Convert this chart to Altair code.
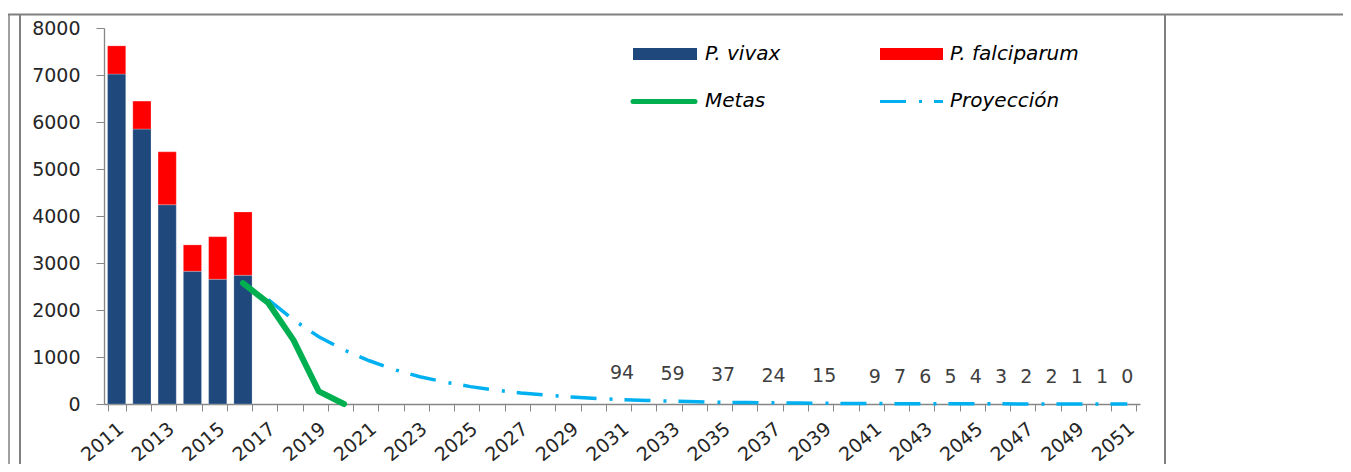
import altair as alt
import pandas as pd

# ---------------- data ----------------
years = [str(y) for y in range(2011, 2052)]

bar_years = ["2011", "2012", "2013", "2014", "2015", "2016"]
vivax = [7020, 5850, 4240, 2825, 2655, 2740]
falciparum = [600, 595, 1125, 560, 905, 1345]

meta_years = ["2016", "2017", "2018", "2019", "2020"]
metas = [2570, 2150, 1360, 270, 0]

proj_years = [str(y) for y in range(2017, 2052)]
proyeccion = [2220, 1790, 1430, 1150, 920, 730, 580, 465, 370, 295, 235, 188,
              150, 118, 94, 74, 59, 47, 37, 30, 24, 19, 15, 12, 9, 7, 6, 5, 4,
              3, 2, 2, 1, 1, 0]

label_years = ["2031", "2033", "2035", "2037", "2039", "2041", "2042", "2043",
               "2044", "2045", "2046", "2047", "2048", "2049", "2050", "2051"]
label_values = [94, 59, 37, 24, 15, 9, 7, 6, 5, 4, 3, 2, 2, 1, 1, 0]

series_names = ["P. vivax", "P. falciparum", "Metas", "Proyección"]
series_colors = ["#1F497D", "#FF0000", "#00B050", "#00B0F0"]

# ---------------- tables ----------------
bars = pd.DataFrame(
    [{"year": y, "species": series_names[0], "cases": v, "ord": 0} for y, v in zip(bar_years, vivax)]
    + [{"year": y, "species": series_names[1], "cases": v, "ord": 1} for y, v in zip(bar_years, falciparum)]
)
metas_df = pd.DataFrame({"year": meta_years, "value": metas})
proj_df = pd.DataFrame({"year": proj_years, "value": proyeccion})
labels_df = pd.DataFrame({"year": label_years, "value": label_values})

FONT = "DejaVu Sans"
AXIS_GRAY = "#868686"

x_enc = alt.X(
    "year:O",
    scale=alt.Scale(domain=years, paddingInner=0.28, paddingOuter=0.14),
    axis=alt.Axis(
        title=None, labelAngle=-40, labelAlign="right", labelBaseline="middle",
        labelExpr="toNumber(datum.value) % 2 == 1 ? datum.value : ''",
        labelOverlap=False, tickBand="extent", tickSize=7, labelPadding=15,
        labelOffset=4, labelFontSize=19,
    ),
)
y_scale = alt.Scale(domain=[0, 8000], nice=False)
y_axis = alt.Axis(title=None, values=list(range(0, 8001, 1000)), tickSize=8,
                  labelPadding=16, format="d", labelFontSize=19)

bar_layer = alt.Chart(bars).mark_bar(stroke="white", strokeWidth=0.4, strokeOpacity=0.6).encode(
    x=x_enc,
    y=alt.Y("cases:Q", stack="zero", scale=y_scale, axis=y_axis),
    color=alt.Color("species:N",
                    scale=alt.Scale(domain=series_names[:2], range=series_colors[:2]),
                    legend=None),
    order=alt.Order("ord:Q"),
)

proj_layer = alt.Chart(proj_df).mark_line(
    color=series_colors[3], strokeWidth=3.5, strokeDash=[26, 13, 3, 12], strokeCap="butt"
).encode(x=x_enc, y=alt.Y("value:Q", scale=y_scale, axis=y_axis))

meta_layer = alt.Chart(metas_df).mark_line(
    color=series_colors[2], strokeWidth=6, strokeCap="round", strokeJoin="round"
).encode(x=x_enc, y=alt.Y("value:Q", scale=y_scale, axis=y_axis))

text_layer = alt.Chart(labels_df).mark_text(
    dy=-27, fontSize=19, font=FONT, color="#404040", baseline="middle"
).encode(x=x_enc, y=alt.Y("value:Q", scale=y_scale, axis=y_axis), text="value:Q")

# ---------------- legend (manual, inside plot) ----------------
def legend_rect(x0, x1, color):
    return alt.Chart(pd.DataFrame({"k": [0]})).mark_rect(color=color).encode(
        x=alt.value(x0), x2=alt.value(x1), y=alt.value(20), y2=alt.value(32))

def legend_line(x0, x1, y, color, width, dash=None):
    kw = dict(color=color, strokeWidth=width, strokeCap="round" if dash is None else "butt")
    if dash is not None:
        kw["strokeDash"] = dash
    return alt.Chart(pd.DataFrame({"k": [0]})).mark_rule(**kw).encode(
        x=alt.value(x0), x2=alt.value(x1), y=alt.value(y))

def legend_text(x, y, txt):
    return alt.Chart(pd.DataFrame({"k": [0]})).mark_text(
        align="left", baseline="middle", fontSize=20, font=FONT, fontStyle="italic",
        color="#000000").encode(x=alt.value(x), y=alt.value(y), text=alt.value(txt))

legend_layers = [
    legend_rect(529, 593, series_colors[0]),
    legend_text(601, 26, series_names[0]),
    legend_rect(776, 839, series_colors[1]),
    legend_text(846, 26, series_names[1]),
    legend_line(529, 591, 73.5, series_colors[2], 5),
    legend_text(601, 73, series_names[2]),
    legend_line(776, 839, 73.5, series_colors[3], 3, [26, 13, 3, 12]),
    legend_text(846, 73, series_names[3]),
]

# ---------------- frame decoration ----------------
def rule(x0, x1, y0, y1, color="#808080", w=2):
    return alt.Chart(pd.DataFrame({"k": [0]})).mark_rule(color=color, strokeWidth=w).encode(
        x=alt.value(x0), x2=alt.value(x1), y=alt.value(y0), y2=alt.value(y1))

frame = [
    rule(-96, 1240, -13.5, -13.5),
    rule(-95, -95, -13.5, 448, w=1.5),
    rule(-84, -84, -13.5, 448),
    rule(1061, 1061, -13.5, 448),
    rule(-84, 1061, 442.5, 442.5, color="#e8e8e8", w=1),
]

chart = alt.layer(
    bar_layer, proj_layer, meta_layer, text_layer, *legend_layers, *frame
).properties(
    width=1036, height=376,
    padding={"left": 96, "top": 20, "right": 203, "bottom": 60},
    autosize=alt.AutoSizeParams(type="none"),
).configure_view(stroke=None).configure_axis(
    grid=False, domainColor=AXIS_GRAY, tickColor=AXIS_GRAY, domainWidth=1.3,
    labelFont=FONT, labelColor="#262626",
)

chart.save("out.html", embed_options={"renderer": "svg", "actions": False})
